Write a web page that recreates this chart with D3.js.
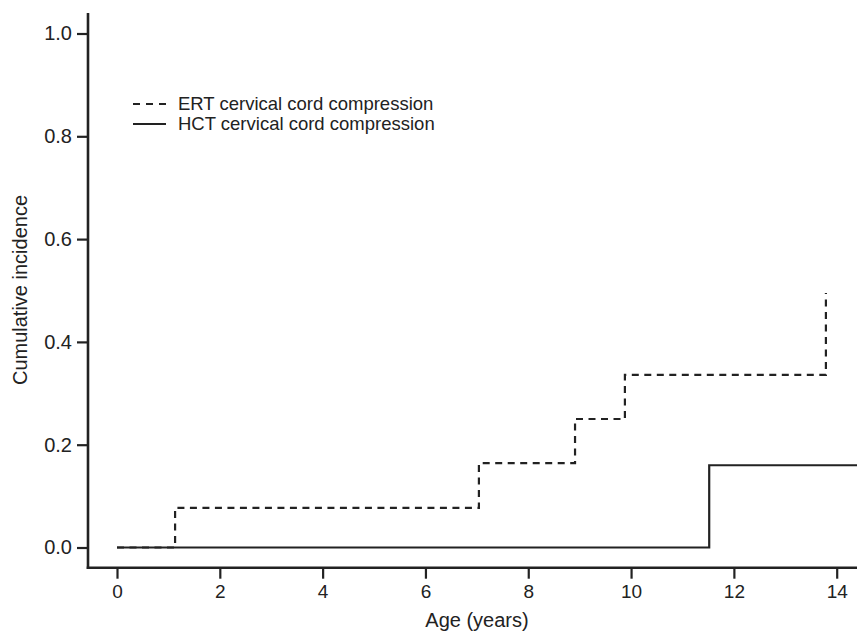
<!DOCTYPE html>
<html>
<head>
<meta charset="utf-8">
<script src="https://cdn.jsdelivr.net/npm/d3@7"></script>
<style>
  body { margin: 0; background: #fff; }
  text { font-family: "Liberation Sans", Arial, sans-serif; fill: #222; }
</style>
</head>
<body>
<svg id="chart"></svg>
<script>
// step data (age in years, cumulative incidence)
const ertAges = [0, 1.13, 7.04, 8.91, 9.88, 13.79];
const ertValues = [0, 0.077, 0.164, 0.25, 0.336, 0.495];
const hctAges = [0, 11.52, 14.4];
const hctValues = [0, 0.16, 0.16];
const xTicks = [0, 2, 4, 6, 8, 10, 12, 14];
const yTicks = [0, 0.2, 0.4, 0.6, 0.8, 1.0];
const seriesNames = ["ERT cervical cord compression", "HCT cervical cord compression"];

const width = 857, height = 632;
const ink = "#222";

const svg = d3.select("#chart")
    .attr("width", width)
    .attr("height", height);

const x = d3.scaleLinear().domain([0, 14]).range([117, 836.7]);
const y = d3.scaleLinear().domain([0, 1]).range([547.5, 33.5]);

const axisX = 88, axisY = 567.7;

// y axis
const gy = svg.append("g")
    .attr("transform", "translate(" + axisX + ",0)")
    .call(d3.axisLeft(y).tickValues(yTicks).tickFormat(d3.format(".1f")).tickSize(11).tickPadding(5));
gy.select(".domain").remove();
gy.selectAll(".tick line").attr("stroke", ink).attr("stroke-width", 2.2);
gy.selectAll(".tick text").style("font-size", "20px").attr("fill", ink);
svg.append("line")
    .attr("x1", axisX).attr("x2", axisX)
    .attr("y1", 13).attr("y2", axisY + 1.2)
    .attr("stroke", ink).attr("stroke-width", 2.6);

// x axis
const gx = svg.append("g")
    .attr("transform", "translate(0," + axisY + ")")
    .call(d3.axisBottom(x).tickValues(xTicks).tickSize(11).tickPadding(6));
gx.select(".domain").remove();
gx.selectAll(".tick line").attr("stroke", ink).attr("stroke-width", 2.2);
gx.selectAll(".tick text").style("font-size", "19px").attr("fill", ink);
svg.append("line")
    .attr("x1", axisX - 1.3).attr("x2", width)
    .attr("y1", axisY).attr("y2", axisY)
    .attr("stroke", ink).attr("stroke-width", 2.6);

// axis titles
svg.append("text")
    .attr("x", (x(0) + width) / 2 - 10)
    .attr("y", 627)
    .attr("text-anchor", "middle")
    .style("font-size", "20px")
    .text("Age (years)");

svg.append("text")
    .attr("transform", "translate(27,290) rotate(-90)")
    .attr("text-anchor", "middle")
    .style("font-size", "20px")
    .text("Cumulative incidence");

// lines
const step = d3.line()
    .x(d => x(d[0]))
    .y(d => y(d[1]))
    .curve(d3.curveStepAfter);

const hct = d3.zip(hctAges, hctValues);
const ert = d3.zip(ertAges, ertValues);

svg.append("path")
    .datum(ert)
    .attr("d", step)
    .attr("fill", "none")
    .attr("stroke", ink)
    .attr("stroke-width", 2.2)
    .attr("stroke-dasharray", "7,5.5");

svg.append("path")
    .datum(hct)
    .attr("d", step)
    .attr("fill", "none")
    .attr("stroke", ink)
    .attr("stroke-width", 2.2);

// legend
const legend = svg.append("g")
    .selectAll("g")
    .data(seriesNames)
    .enter().append("g")
    .attr("transform", (d, i) => "translate(133," + (104 + i * 20) + ")");

legend.append("line")
    .attr("x1", 0).attr("x2", 33)
    .attr("y1", 0).attr("y2", 0)
    .attr("stroke", ink)
    .attr("stroke-width", 2.2)
    .attr("stroke-dasharray", (d, i) => i === 0 ? "7,6" : null);

legend.append("text")
    .attr("x", 45)
    .attr("y", 0)
    .attr("dy", "0.35em")
    .style("font-size", "18.5px")
    .text(d => d);
</script>
</body>
</html>
